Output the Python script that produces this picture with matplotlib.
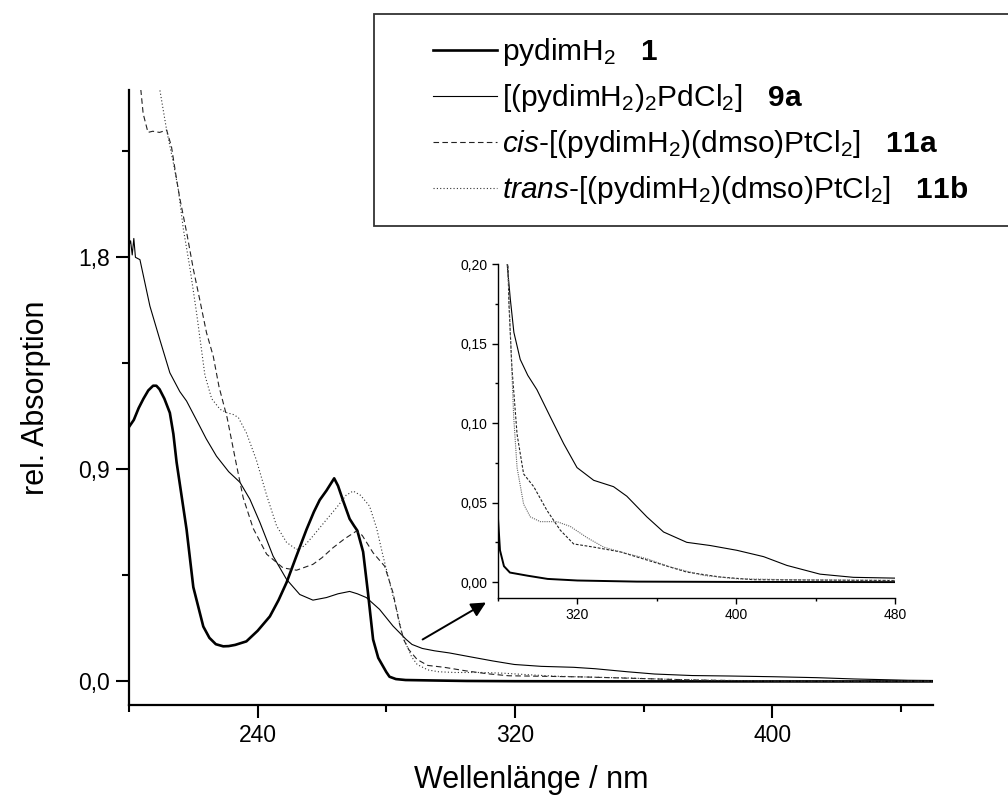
import numpy as np
import matplotlib
matplotlib.use("Agg")
import matplotlib.pyplot as plt
import matplotlib.ticker as ticker
from matplotlib.lines import Line2D
from matplotlib.patches import Rectangle

plt.rcParams['font.family'] = ['Liberation Sans', 'DejaVu Sans']
plt.rcParams['mathtext.fontset'] = 'custom'
plt.rcParams['mathtext.rm'] = 'Liberation Sans'
plt.rcParams['mathtext.it'] = 'Liberation Sans:italic'
plt.rcParams['mathtext.bf'] = 'Liberation Sans:bold'

# pydimH2 (1)
wl_1 = [200, 201.5, 203, 204.5, 206, 207.5, 208.5, 209.5, 211, 212.7, 213.8, 214.8, 217.9,
        220, 223.1, 225, 227, 229.3, 231, 233, 236.5, 240, 243.8, 246.5, 249, 252, 255.2,
        257.5, 259.3, 261.4, 263.8, 265, 266.5, 268.6, 270, 271, 272.8, 274.3, 275.9,
        277.5, 279, 280, 281, 283, 286, 295, 305, 320, 350, 400, 480]
abs_1 = [1.08, 1.11, 1.16, 1.20, 1.235, 1.255, 1.255, 1.24, 1.20, 1.14, 1.05, 0.93, 0.645,
         0.40, 0.233, 0.185, 0.158, 0.149, 0.15, 0.155, 0.17, 0.215, 0.276, 0.345, 0.42,
         0.53, 0.645, 0.72, 0.77, 0.81, 0.862, 0.83, 0.77, 0.69, 0.66, 0.64, 0.55, 0.377,
         0.178, 0.10, 0.064, 0.04, 0.02, 0.01, 0.006, 0.004, 0.002, 0.001, 0.0003, 0.0001,
         0.0]

# [(pydimH2)2PdCl2] (9a)
wl_9a = [200, 200.5, 201, 201.5, 202, 203.4, 206.5, 209.6, 212.7, 215.8, 217.9, 222, 224,
         227.2, 231, 234.5, 237.6, 240.7, 244.8, 249, 253.1, 257.2, 261.4, 265, 268.6, 271,
         273.8, 277.9, 282.1, 286.2, 288, 291.2, 295, 299.6, 306.3, 313.1, 319.8, 328.2,
         338.2, 344.9, 355, 363.4, 375.1, 386.9, 400.3, 413.8, 425.5, 442.2, 459, 480]
abs_9a = [1.85, 1.87, 1.81, 1.88, 1.80, 1.79, 1.593, 1.45, 1.31, 1.23, 1.19, 1.083, 1.03,
          0.956, 0.89, 0.845, 0.773, 0.675, 0.532, 0.433, 0.369, 0.345, 0.356, 0.372, 0.382,
          0.372, 0.356, 0.306, 0.235, 0.178, 0.157, 0.14, 0.13, 0.121, 0.104, 0.087, 0.072,
          0.064, 0.060, 0.054, 0.041, 0.0315, 0.025, 0.023, 0.020, 0.016, 0.0105, 0.005,
          0.003, 0.0025]

# cis-[(pydimH2)(dmso)PtCl2] (11a)
wl_11a = [203.4, 204.4, 205.9, 207.4, 209.5, 211.7, 213.2, 214.8, 215.8, 218, 220, 222,
          224.1, 226.2, 228, 230.5, 233.4, 235.5, 238.6, 242.8, 247.9, 252.1, 257.2, 260,
          263.4, 267, 270.7, 272.5, 275.9, 279.5, 282.1, 284, 285.5, 287, 289.6, 292.9, 298,
          304.7, 311.4, 318.1, 328.2, 341.6, 358.4, 375.1, 391.9, 408.7, 480]
abs_11a = [2.55, 2.41, 2.33, 2.335, 2.33, 2.34, 2.27, 2.13, 2.05, 1.90, 1.75, 1.62, 1.48,
           1.38, 1.25, 1.12, 0.92, 0.78, 0.65, 0.54, 0.482, 0.472, 0.497, 0.525, 0.567,
           0.605, 0.638, 0.62, 0.546, 0.489, 0.376, 0.25, 0.175, 0.135, 0.093, 0.068, 0.06,
           0.045, 0.0326, 0.024, 0.022, 0.019, 0.0126, 0.0063, 0.0032, 0.0015, 0.001]

# trans-[(pydimH2)(dmso)PtCl2] (11b)
wl_11b = [209.1, 211.7, 213.8, 215.3, 216.9, 219, 221, 223.6, 225.7, 228.3, 230.5, 232.4,
          234, 236.5, 239.6, 242.8, 245.9, 249, 252.1, 254.5, 257.2, 261, 264.5, 267.5,
          269.7, 272, 274.8, 277, 279, 282.1, 283.5, 284.9, 286.2, 287.9, 289.6, 292.9,
          296.3, 301.3, 309.7, 316.4, 324.8, 333.2, 341.6, 355, 366.7, 383.5, 400.3, 425.5,
          480]
abs_11b = [2.55, 2.34, 2.2, 2.09, 1.92, 1.75, 1.565, 1.30, 1.20, 1.155, 1.14, 1.133, 1.12,
           1.055, 0.94, 0.79, 0.66, 0.59, 0.56, 0.575, 0.617, 0.68, 0.737, 0.79, 0.808, 0.79,
           0.744, 0.65, 0.532, 0.362, 0.29, 0.20, 0.157, 0.104, 0.072, 0.049, 0.041, 0.038,
           0.038, 0.035, 0.028, 0.022, 0.019, 0.0147, 0.0095, 0.0042, 0.0021, 0.0015, 0.001]

labels = [r"pydimH$_\mathrm{2}$   $\mathbf{1}$",
          r"[(pydimH$_\mathrm{2}$)$_\mathrm{2}$PdCl$_\mathrm{2}$]   $\mathbf{9a}$",
          r"$\mathit{cis}$-[(pydimH$_\mathrm{2}$)(dmso)PtCl$_\mathrm{2}$]   $\mathbf{11a}$",
          r"$\mathit{trans}$-[(pydimH$_\mathrm{2}$)(dmso)PtCl$_\mathrm{2}$]   $\mathbf{11b}$"]

series = [(wl_1, abs_1), (wl_9a, abs_9a), (wl_11a, abs_11a), (wl_11b, abs_11b)]
styles = [dict(color='k', lw=1.9, ls='-'),
          dict(color='k', lw=0.8, ls='-'),
          dict(color='#222222', lw=0.8, ls=(0, (5, 3))),
          dict(color='#333333', lw=0.8, ls=(0, (1, 2)))]

comma1 = ticker.FuncFormatter(lambda v, p: f"{v:.1f}".replace('.', ','))
comma2 = ticker.FuncFormatter(lambda v, p: f"{v:.2f}".replace('.', ','))
plain = ticker.FuncFormatter(lambda v, p: f"{v:.0f}")

fig = plt.figure(figsize=(10.08, 7.98), dpi=100)

# main plot
ax = fig.add_axes([129/1008, 1-705/798, (933-129)/1008, (705-90)/798])
for (x, y), st in zip(series, styles):
    ax.plot(x, y, **st)
ax.set_xlim(200, 450)
ax.set_ylim(-0.1, 2.51)
ax.spines['top'].set_visible(False)
ax.spines['right'].set_visible(False)
for s in ['left', 'bottom']:
    ax.spines[s].set_linewidth(1.6)
ax.xaxis.set_major_locator(ticker.FixedLocator([240, 320, 400]))
ax.xaxis.set_minor_locator(ticker.FixedLocator([200, 280, 360, 440]))
ax.yaxis.set_major_locator(ticker.FixedLocator([0.0, 0.9, 1.8]))
ax.yaxis.set_minor_locator(ticker.FixedLocator([0.45, 1.35, 2.25]))
ax.xaxis.set_major_formatter(plain)
ax.yaxis.set_major_formatter(comma1)
ax.tick_params(which='major', direction='out', length=9.5, width=1.5, labelsize=16.5, pad=4)
ax.tick_params(which='minor', direction='out', length=5, width=1.5)
ax.set_xlabel('Wellenlänge / nm', fontsize=22, labelpad=13)
ax.set_ylabel('rel. Absorption', fontsize=22, labelpad=20)

# arrow to inset
ax.annotate('', xy=(311, 0.335), xytext=(291.3, 0.178),
            arrowprops=dict(arrowstyle='-|>', lw=1.4, color='k', mutation_scale=22,
                            shrinkA=0, shrinkB=0), annotation_clip=False)

# inset
axin = fig.add_axes([498/1008, 1-598/798, (895-498)/1008, (598-264)/798])
axin.patch.set_alpha(0)
inset_lw = [1.4, 0.8, 0.8, 0.8]
for (x, y), st, w in zip(series, styles, inset_lw):
    st2 = dict(st)
    st2['lw'] = w
    if st['ls'] == (0, (1, 2)):
        st2['color'] = '#666666'
        st2['ls'] = (0, (1, 1))
    elif st['ls'] == (0, (5, 3)):
        st2['ls'] = (0, (2.5, 1.5))
    axin.plot(x, y, **st2)
axin.set_xlim(280, 480)
axin.set_ylim(-0.01, 0.20)
axin.spines['top'].set_visible(False)
axin.spines['right'].set_visible(False)
for s in ['left', 'bottom']:
    axin.spines[s].set_linewidth(1.0)
axin.xaxis.set_major_locator(ticker.FixedLocator([320, 400, 480]))
axin.xaxis.set_minor_locator(ticker.FixedLocator([280, 360, 440]))
axin.yaxis.set_major_locator(ticker.MultipleLocator(0.05))
axin.yaxis.set_minor_locator(ticker.MultipleLocator(0.025))
axin.xaxis.set_major_formatter(plain)
axin.yaxis.set_major_formatter(comma2)
axin.tick_params(which='major', direction='out', length=4.5, width=1.0, labelsize=10, pad=3)
axin.tick_params(which='minor', direction='out', length=2.5, width=1.0)

# legend
fig.patches.append(Rectangle((374/1008, 1-226/798), (1012-374)/1008, (226-14)/798,
                             transform=fig.transFigure, facecolor='white',
                             edgecolor='#333333', lw=1.3, zorder=2))
handles = [Line2D([], [], **st) for st in styles]
fig.legend(handles, labels, loc='upper left', bbox_to_anchor=(433/1008, 1-36/798),
           frameon=False, fontsize=21.5, handlelength=2.15, handletextpad=0.17,
           labelspacing=0.47, borderpad=0, borderaxespad=0)

fig.savefig('out.png', dpi=100)
